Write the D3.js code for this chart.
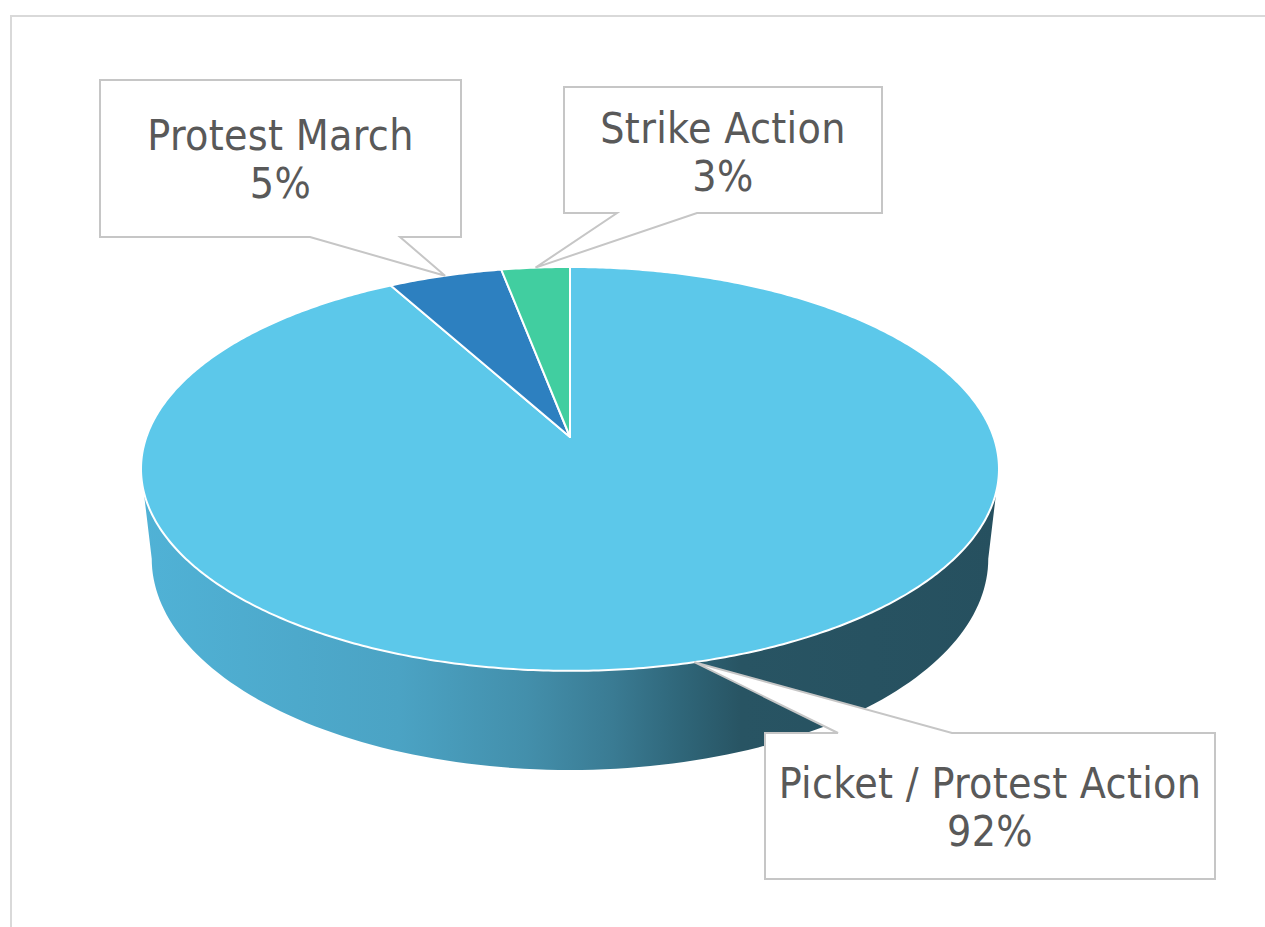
<!DOCTYPE html>
<html lang="en">
<head>
    <meta charset="UTF-8">
    <title>Protest Action Types</title>
    <script src="https://d3js.org/d3.v7.min.js"></script>
    <style>
        body {
            margin: 0;
            background-color: #ffffff;
        }
        svg {
            display: block;
        }
        .callout-text {
            font-family: "DejaVu Sans Condensed", "DejaVu Sans", sans-serif;
            font-stretch: condensed;
            font-size: 42.5px;
            letter-spacing: 0.3px;
            fill: #595959;
            text-anchor: middle;
        }
    </style>
</head>
<body>
<svg width="1265" height="927"></svg>

<script>
    // data
    const categories = ["Picket / Protest Action", "Protest March", "Strike Action"];
    const shares = [92, 5, 3];
    const pctLabels = ["92%", "5%", "3%"];
    const colors = ["#5cc8ea", "#2d80c0", "#41cea0"];

    // callout boxes (layout only): box corners, pointer base on box edge
    const callouts = [
        {x0: 765, y0: 733, x1: 1215, y1: 879, edge: "top", b0: 838, b1: 952, line1: 798, line2: 846},
        {x0: 100, y0: 80, x1: 461, y1: 237, edge: "bottom", b0: 310, b1: 400, line1: 150, line2: 198},
        {x0: 564, y0: 87, x1: 882, y1: 213, edge: "bottom", b0: 617, b1: 697, line1: 143, line2: 191}
    ];

    const svg = d3.select("svg");

    // outer frame
    svg.append("rect")
        .attr("x", 11).attr("y", 16)
        .attr("width", 1300).attr("height", 1000)
        .attr("fill", "none")
        .attr("stroke", "#d9d9d9")
        .attr("stroke-width", 2);

    // perspective ellipse for the 3D pie
    const cx = 570, cy = 437;
    const A = 423.6, B = 196.9, k = 0.158;   // top face
    const s = 0.975, H = 88.4;               // bottom face scale + drop

    // a = angle clockwise from 12 o'clock, level 0 = top face, 1 = bottom face
    function proj(a, level) {
        const u = Math.sin(a), v = -Math.cos(a);
        const w = 1 - k * v;
        if (level === 0) return [cx + A * u / w, cy + B * v / w];
        return [cx + A * s * u / w, cy + (B * s * v + H) / w];
    }

    const pie = d3.pie().sort(null).value(d => d);
    const arcs = pie(shares);

    // side gradient
    const defs = svg.append("defs");
    const grad = defs.append("linearGradient")
        .attr("id", "sideGrad")
        .attr("gradientUnits", "userSpaceOnUse")
        .attr("x1", 141).attr("x2", 999).attr("y1", 0).attr("y2", 0);
    [[0, "#50b2d6"], [0.3, "#4ba3c4"], [0.45, "#438fab"], [0.55, "#3a7b93"],
     [0.63, "#2f6679"], [0.7, "#285463"], [1, "#26505f"]].forEach(st => {
        grad.append("stop").attr("offset", st[0]).attr("stop-color", st[1]);
    });

    // front side wall (only the front half is visible)
    const aR = Math.PI / 2 + Math.asin(k);       // right silhouette
    const aL = 3 * Math.PI / 2 - Math.asin(k);   // left silhouette
    const steps = 120;
    const topFront = d3.range(steps + 1).map(i => proj(aR + (aL - aR) * i / steps, 0));
    const botFront = d3.range(steps + 1).map(i => proj(aL - (aL - aR) * i / steps, 1));
    svg.append("path")
        .attr("d", d3.line()(topFront.concat(botFront)) + "Z")
        .attr("fill", "url(#sideGrad)");

    // top face slices
    function slicePath(d) {
        const n = Math.max(8, Math.ceil((d.endAngle - d.startAngle) / 0.01));
        const pts = [[cx, cy]].concat(d3.range(n + 1).map(i =>
            proj(d.startAngle + (d.endAngle - d.startAngle) * i / n, 0)));
        return d3.line()(pts) + "Z";
    }

    svg.append("g")
        .selectAll("path")
        .data(arcs)
        .join("path")
        .attr("d", slicePath)
        .attr("fill", (d, i) => colors[i])
        .attr("stroke", "#ffffff")
        .attr("stroke-width", 2)
        .attr("stroke-linejoin", "round");

    // callouts
    const gC = svg.append("g");
    arcs.forEach((d, i) => {
        const c = callouts[i];
        const tip = proj((d.startAngle + d.endAngle) / 2, 0);
        let p;
        if (c.edge === "top") {
            p = `M${c.x0},${c.y0}H${c.b0}L${tip[0]},${tip[1]}L${c.b1},${c.y0}H${c.x1}V${c.y1}H${c.x0}Z`;
        } else {
            p = `M${c.x0},${c.y0}H${c.x1}V${c.y1}H${c.b1}L${tip[0]},${tip[1]}L${c.b0},${c.y1}H${c.x0}Z`;
        }
        gC.append("path")
            .attr("d", p)
            .attr("fill", "#ffffff")
            .attr("stroke", "#c6c6c6")
            .attr("stroke-width", 2)
            .attr("stroke-linejoin", "miter");

        const mx = (c.x0 + c.x1) / 2;
        gC.append("text").attr("class", "callout-text")
            .attr("x", mx).attr("y", c.line1)
            .text(categories[i]);
        gC.append("text").attr("class", "callout-text")
            .attr("x", mx).attr("y", c.line2)
            .text(pctLabels[i]);
    });
</script>
</body>
</html>
